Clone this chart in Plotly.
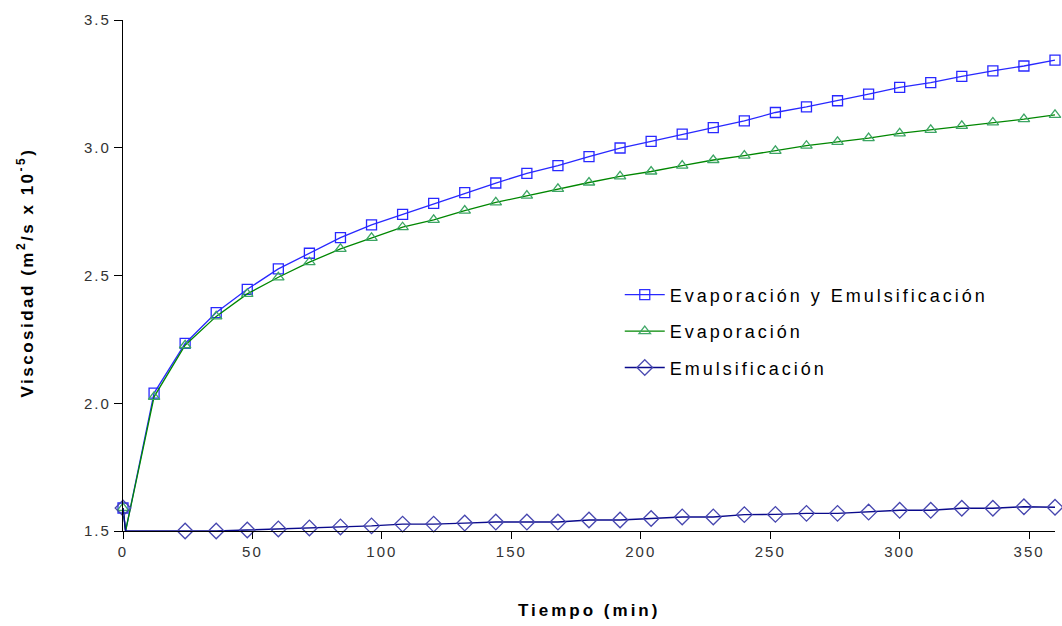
import plotly.graph_objects as go

# ---- data ----
time = [0, 1, 12, 24, 36, 48, 60, 72, 84, 96, 108, 120, 132, 144, 156, 168, 180,
        192, 204, 216, 228, 240, 252, 264, 276, 288, 300, 312, 324, 336, 348, 360]

evap_emul = [1.59, 1.50, 2.04, 2.234, 2.355, 2.446, 2.526, 2.587, 2.648, 2.698, 2.739,
             2.782, 2.824, 2.862, 2.900, 2.930, 2.965, 2.999, 3.025, 3.053, 3.079,
             3.105, 3.138, 3.160, 3.184, 3.210, 3.236, 3.255, 3.279, 3.301, 3.320, 3.343]

evap = [1.59, 1.50, 2.025, 2.227, 2.34, 2.428, 2.493, 2.552, 2.604, 2.647, 2.689,
        2.718, 2.754, 2.786, 2.8125, 2.839, 2.864, 2.888, 2.907, 2.930, 2.952,
        2.969, 2.988, 3.008, 3.023, 3.038, 3.056, 3.070, 3.086, 3.099, 3.112, 3.129]

time_emul = [0, 1, 24, 36, 48, 60, 72, 84, 96, 108, 120, 132, 144, 156, 168, 180,
             192, 204, 216, 228, 240, 252, 264, 276, 288, 300, 312, 324, 336, 348, 360]

emul = [1.59, 1.50, 1.50, 1.50, 1.504, 1.508, 1.512, 1.516, 1.52, 1.527, 1.527,
        1.531, 1.535, 1.535, 1.535, 1.543, 1.543, 1.549, 1.555, 1.555, 1.564,
        1.565, 1.569, 1.569, 1.574, 1.581, 1.581, 1.589, 1.589, 1.595, 1.593]

names = ["Evaporación y Emulsificación", "Evaporación", "Emulsificación"]
x_title = "Tiempo (min)"
y_title = "Viscosidad (m<sup>2</sup>/s x 10<sup>-5</sup>)"
x_ticks = [0, 50, 100, 150, 200, 250, 300, 350]
y_ticks = [1.5, 2.0, 2.5, 3.0, 3.5]


def marker_opacity(ts):
    # markers only at the 12-minute sampling points
    return [0 if t % 12 else 1 for t in ts]


FONT = "Arial, Liberation Sans, sans-serif"

fig = go.Figure()
fig.add_trace(go.Scatter(
    x=time, y=evap_emul, name=names[0], mode="lines+markers",
    line=dict(color="rgb(40,40,255)", width=1.3),
    marker=dict(symbol="square-open", size=10, color="rgb(40,40,255)",
                opacity=marker_opacity(time), line=dict(width=1.3)),
    cliponaxis=False, legendgroup="a"))
fig.add_trace(go.Scatter(
    x=time, y=evap, name=names[1], mode="lines+markers",
    line=dict(color="rgb(0,135,0)", width=1.3),
    marker=dict(symbol="triangle-up-open", size=10, color="rgb(60,165,100)",
                opacity=marker_opacity(time), line=dict(width=1.3)),
    cliponaxis=False, legendgroup="b"))
fig.add_trace(go.Scatter(
    x=time_emul, y=emul, name=names[2], mode="lines+markers",
    line=dict(color="rgb(10,10,140)", width=1.4),
    marker=dict(symbol="diamond-open", size=12, color="rgb(70,70,175)",
                opacity=marker_opacity(time_emul), line=dict(width=1.3)),
    cliponaxis=False, legendgroup="c"))

fig.update_layout(
    width=1062, height=626,
    paper_bgcolor="white", plot_bgcolor="white",
    margin=dict(l=123, r=7, t=20, b=95, autoexpand=False),
    font=dict(family=FONT, color="#222"),
    showlegend=True,
    legend=dict(x=0.533, y=0.498, xanchor="left", yanchor="top",
                font=dict(size=18, family=FONT, color="black"),
                bgcolor="rgba(0,0,0,0)", tracegroupgap=10, itemwidth=40),
    xaxis=dict(range=[0, 360], tickvals=x_ticks, showgrid=False, zeroline=False,
               showline=True, linecolor="black", linewidth=1.2,
               ticks="outside", ticklen=7, tickcolor="black",
               tickfont=dict(size=15, color="#333"), automargin=False),
    yaxis=dict(range=[1.5, 3.5], tickvals=y_ticks, tickformat=".1f",
               showgrid=False, zeroline=False,
               showline=True, linecolor="black", linewidth=1.2,
               ticks="outside", ticklen=8, tickcolor="black",
               tickfont=dict(size=15, color="#333"), automargin=False),
    annotations=[
        dict(text="<b>" + x_title + "</b>", xref="paper", yref="paper",
             x=0.5, y=0, xanchor="center", yanchor="middle", yshift=-79,
             showarrow=False, font=dict(size=17, color="black", family=FONT)),
        dict(text="<b>" + y_title + "</b>", xref="paper", yref="paper",
             x=0, y=0.5, xanchor="center", yanchor="middle", xshift=-98, yshift=3,
             textangle=-90, showarrow=False,
             font=dict(size=17, color="black", family=FONT)),
    ],
)

page_js = """
document.body.style.margin = '0';
document.body.style.overflow = 'hidden';
document.querySelectorAll('.legend, .legend *').forEach(function(e){e.removeAttribute('clip-path');});
document.querySelectorAll('.legendtext').forEach(function(t){t.style.letterSpacing='3px';});
document.querySelectorAll('.xtick text, .ytick text').forEach(function(t){t.style.letterSpacing='2px';});
var ann = document.querySelectorAll('.annotation-text');
if (ann.length > 0) { ann[0].style.letterSpacing = '3px'; }
if (ann.length > 1) { ann[1].style.letterSpacing = '2.5px'; }
"""

fig.write_html("out.html", post_script=page_js,
               config={"displayModeBar": False, "staticPlot": True})
